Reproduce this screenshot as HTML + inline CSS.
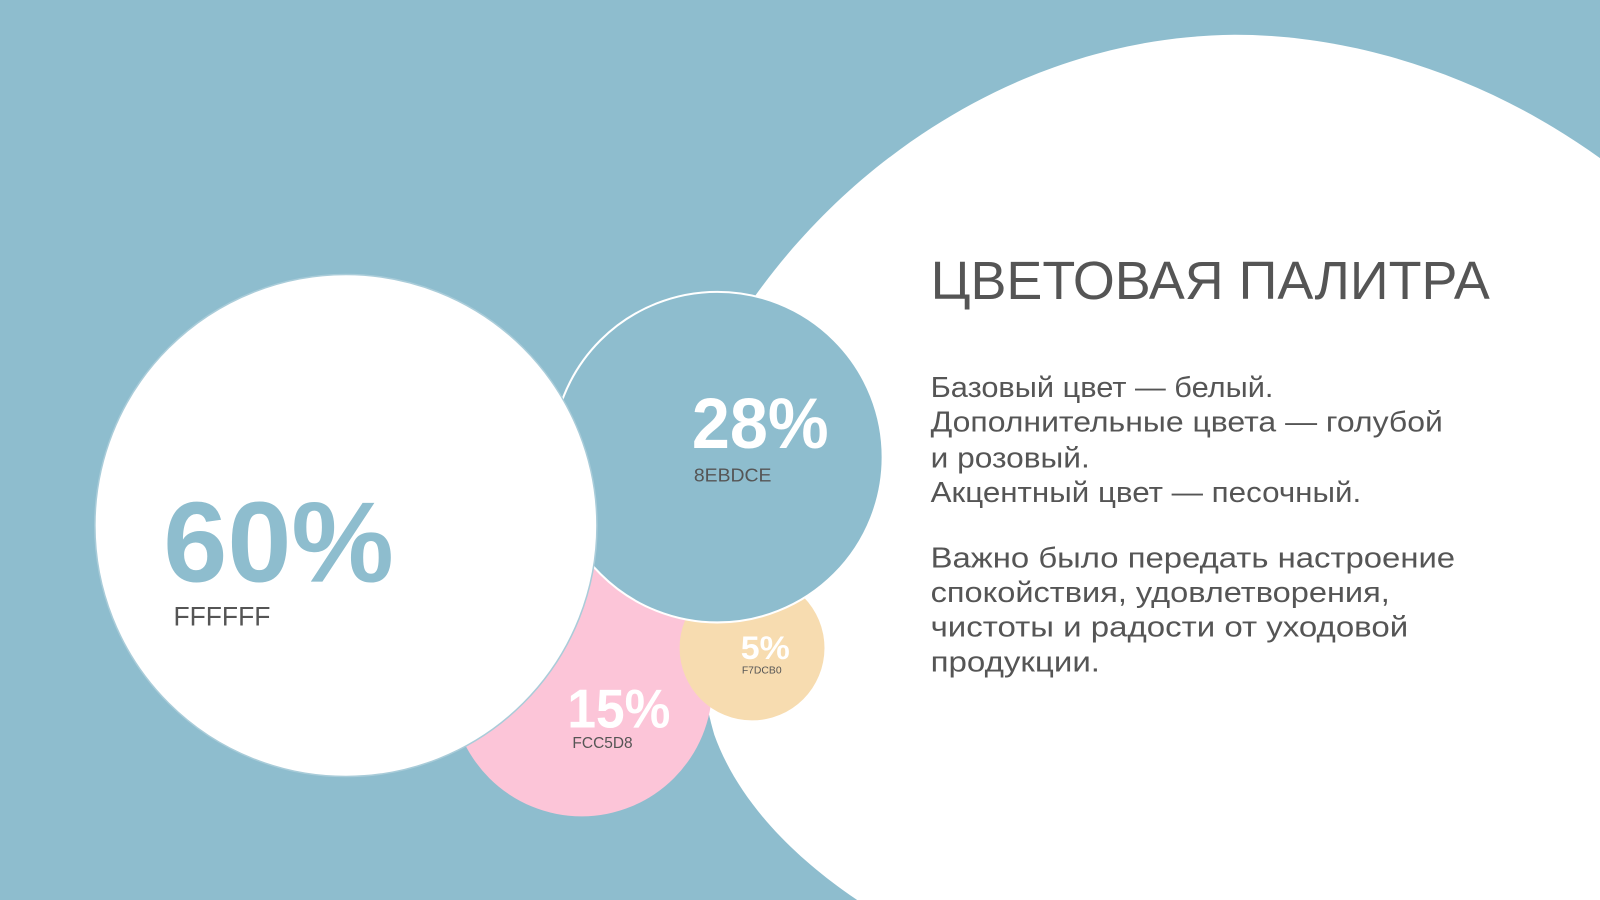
<!DOCTYPE html>
<html><head><meta charset="utf-8"><style>
html,body{margin:0;padding:0;background:#8EBDCE;}
svg{display:block}
</style></head><body>
<svg width="1600" height="900" viewBox="0 0 1568 882" preserveAspectRatio="none" xmlns="http://www.w3.org/2000/svg">
<rect width="1568" height="882" fill="#8EBDCE"/>
<path d="M1568,155 C1450,70 1320,34 1210,34 C1010,36 840,150 740,290 C675,390 665,600 700,720 C725,790 785,845 840,882 L1568,882 Z" fill="#fff"/>
<circle cx="570" cy="672" r="128" fill="#FCC5D8"/>
<circle cx="737" cy="635" r="71" fill="#F7DCB0"/>
<circle cx="703" cy="448" r="162" fill="#8EBDCE" stroke="#fff" stroke-width="2"/>
<circle cx="339" cy="515" r="246" fill="#fff" stroke="#a9ccd9" stroke-width="1.5"/>
<g font-family="Liberation Sans, sans-serif" font-weight="bold">
<text x="160" y="570" font-size="112" fill="#8EBDCE" textLength="226" lengthAdjust="spacingAndGlyphs">60%</text>
<text x="678" y="439" font-size="70" fill="#fff" textLength="134" lengthAdjust="spacingAndGlyphs">28%</text>
<text x="556" y="713" font-size="54" fill="#fff" textLength="101" lengthAdjust="spacingAndGlyphs">15%</text>
<text x="726" y="646" font-size="32" fill="#fff" textLength="48" lengthAdjust="spacingAndGlyphs">5%</text>
</g>
<g font-family="Liberation Sans, sans-serif" fill="#555">
<text x="170" y="613" font-size="26" textLength="95" lengthAdjust="spacingAndGlyphs">FFFFFF</text>
<text x="680" y="472" font-size="18" textLength="76" lengthAdjust="spacingAndGlyphs">8EBDCE</text>
<text x="561" y="733" font-size="15" textLength="59" lengthAdjust="spacingAndGlyphs">FCC5D8</text>
<text x="727" y="660" font-size="10" textLength="39" lengthAdjust="spacingAndGlyphs">F7DCB0</text>
<text x="912" y="293" font-size="53" textLength="548" lengthAdjust="spacingAndGlyphs">ЦВЕТОВАЯ ПАЛИТРА</text>
<g font-size="28">
<text x="912" y="389" textLength="336" lengthAdjust="spacingAndGlyphs">Базовый цвет — белый.</text>
<text x="912" y="423" textLength="502" lengthAdjust="spacingAndGlyphs">Дополнительные цвета — голубой</text>
<text x="912" y="458" textLength="156" lengthAdjust="spacingAndGlyphs">и розовый.</text>
<text x="912" y="492" textLength="422" lengthAdjust="spacingAndGlyphs">Акцентный цвет — песочный.</text>
<text x="912" y="556" textLength="514" lengthAdjust="spacingAndGlyphs">Важно было передать настроение</text>
<text x="912" y="590" textLength="450" lengthAdjust="spacingAndGlyphs">спокойствия, удовлетворения,</text>
<text x="912" y="624" textLength="468" lengthAdjust="spacingAndGlyphs">чистоты и радости от уходовой</text>
<text x="912" y="658" textLength="166" lengthAdjust="spacingAndGlyphs">продукции.</text>
</g>
</g>
</svg>
</body></html>
